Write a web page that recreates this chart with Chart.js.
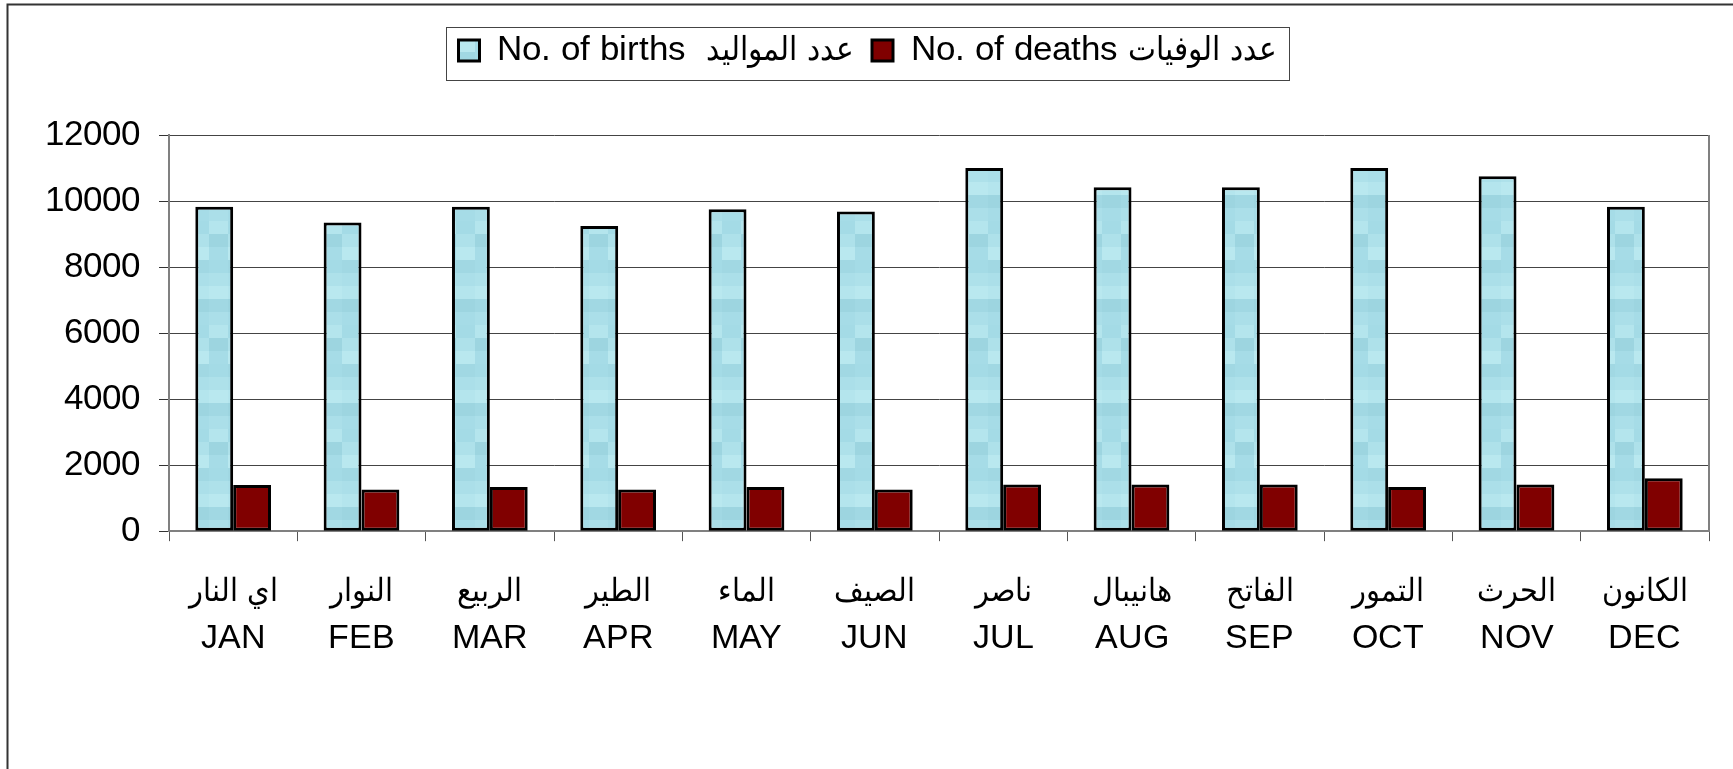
<!DOCTYPE html>
<html>
<head>
<meta charset="utf-8">
<script src="https://cdn.jsdelivr.net/npm/chart.js@4.4.0/dist/chart.umd.min.js"></script>
<style>
  /* arabic glyphs from a narrower face, latin from the arial clone */
  @font-face {
    font-family: 'MixAr';
    src: local('DejaVu Sans Condensed'), local('DejaVuSansCondensed'), local('DejaVu Sans');
    unicode-range: U+0600-06FF, U+FB50-FDFF, U+FE70-FEFF;
    size-adjust: 95%;
  }
  @font-face {
    font-family: 'MixAr';
    src: local('Liberation Sans'), local('LiberationSans'), local('Arial');
    unicode-range: U+0000-05FF;
  }
  html, body { margin: 0; padding: 0; background: #fff; }
  #wrap { width: 1733px; height: 769px; position: relative; }
</style>
</head>
<body>
<div id="wrap"><canvas id="chartdiv"></canvas></div>
<script>
var monthsAr = ['اي النار', 'النوار', 'الربيع', 'الطير', 'الماء', 'الصيف', 'ناصر', 'هانيبال', 'الفاتح', 'التمور', 'الحرث', 'الكانون'];
var monthsEn = ['JAN', 'FEB', 'MAR', 'APR', 'MAY', 'JUN', 'JUL', 'AUG', 'SEP', 'OCT', 'NOV', 'DEC'];
var births = [9830, 9350, 9830, 9240, 9750, 9680, 11000, 10420, 10420, 11000, 10750, 9830];
var deaths = [1400, 1260, 1340, 1260, 1340, 1260, 1410, 1410, 1410, 1340, 1410, 1600];
var seriesNames = ['No. of births  عدد المواليد', 'No. of deaths عدد الوفيات'];

var labels = [];
for (var i = 0; i < monthsEn.length; i++) {
    labels.push([monthsAr[i], monthsEn[i]]);
}

var font = "MixAr, 'Liberation Sans', Arial, 'DejaVu Sans', sans-serif";

// little mosaic texture like the old excel fill
var makePattern = function() {
    var shades = ['#a6dce7', '#9dd5e0', '#b4e5ed', '#abdfe9', '#a1d8e3', '#b9e8ef', '#aee1ea', '#a4dbe6'];
    var c = document.createElement('canvas');
    c.width = 38; c.height = 104;
    var g = c.getContext('2d');
    var k = 0;
    for (var y = 0; y < 8; y++) {
        for (var x = 0; x < 2; x++) {
            g.fillStyle = shades[(k * 3 + y) % shades.length];
            g.fillRect(x * 19, y * 13, 19, 13);
            k++;
        }
    }
    return document.getElementById('chartdiv').getContext('2d').createPattern(c, 'repeat');
};

var frame = {
    id: 'frame',
    beforeInit: function(chart) {
        var lg = chart.legend;
        if (lg && !lg._patched) {
            var fit = lg.fit;
            lg.fit = function() { fit.call(this); this.height += 57; };
            lg._patched = true;
        }
    },
    beforeDraw: function(chart) {
        var ctx = chart.ctx;
        ctx.save();
        ctx.fillStyle = '#fff';
        ctx.fillRect(0, 0, chart.width, chart.height);
        ctx.strokeStyle = '#333';
        ctx.lineWidth = 2;
        ctx.beginPath();
        ctx.moveTo(7.5, chart.height);
        ctx.lineTo(7.5, 4.5);
        ctx.lineTo(chart.width, 4.5);
        ctx.stroke();
        ctx.restore();
    },
    afterDraw: function(chart) {
        var ctx = chart.ctx;
        var a = chart.chartArea;
        ctx.save();
        ctx.strokeStyle = '#808080';
        ctx.lineWidth = 2;
        ctx.beginPath();
        ctx.moveTo(a.right, a.top);
        ctx.lineTo(a.right, a.bottom);
        ctx.stroke();
        var hb = chart.legend.legendHitBoxes;
        if (hb && hb.length) {
            var first = hb[0], last = hb[hb.length - 1];
            ctx.strokeStyle = '#444';
            ctx.lineWidth = 1;
            ctx.strokeRect(Math.round(first.left - 13) + 0.5, 27.5,
                Math.round(last.left + last.width - first.left + 25), 53);
        }
        ctx.restore();
    }
};

function draw() {
    var ctxgen = document.getElementById('chartdiv').getContext('2d');
    var chartgen = new Chart(ctxgen, {
        type: 'bar',
        data: {
            labels: labels,
            datasets: [{
                label: seriesNames[0],
                data: births,
                backgroundColor: makePattern(),
                borderColor: '#000',
                borderWidth: 3,
                borderSkipped: false,
                categoryPercentage: 0.59,
                barPercentage: 1.0
            }, {
                label: seriesNames[1],
                data: deaths,
                backgroundColor: '#800000',
                borderColor: '#000',
                borderWidth: 3,
                borderSkipped: false,
                categoryPercentage: 0.59,
                barPercentage: 1.0
            }]
        },
        options: {
            responsive: true,
            maintainAspectRatio: false,
            animation: false,
            layout: { padding: { left: 26, right: 24, top: 15, bottom: 80 } },
            plugins: {
                legend: {
                    display: true,
                    position: 'top',
                    labels: {
                        color: '#000',
                        font: { family: font, size: 35 },
                        boxWidth: 21,
                        boxHeight: 21,
                        padding: 18
                    }
                },
                tooltip: { enabled: false }
            },
            scales: {
                x: {
                    offset: true,
                    grid: {
                        offset: true,
                        drawOnChartArea: false,
                        drawTicks: true,
                        tickLength: 10,
                        tickColor: '#555'
                    },
                    border: { display: true, color: '#808080', width: 2 },
                    ticks: {
                        color: '#000',
                        font: { family: font, size: 34, lineHeight: 1.38 },
                        padding: 27,
                        maxRotation: 0,
                        autoSkip: false
                    }
                },
                y: {
                    min: 0,
                    max: 12000,
                    grid: {
                        color: '#444',
                        lineWidth: 1,
                        tickLength: 10,
                        tickColor: '#333'
                    },
                    border: { display: true, color: '#808080', width: 2 },
                    ticks: {
                        stepSize: 2000,
                        color: '#000',
                        font: { family: font, size: 35 },
                        padding: 19,
                        callback: function(v) { return String(v); }
                    }
                }
            }
        },
        plugins: [frame]
    });
}

if (document.fonts && document.fonts.load) {
    Promise.all([
        document.fonts.load("34px MixAr", "عدد المواليد"),
        document.fonts.load("34px MixAr", "JAN 12000")
    ]).then(draw, draw);
} else {
    draw();
}
</script>
</body>
</html>
